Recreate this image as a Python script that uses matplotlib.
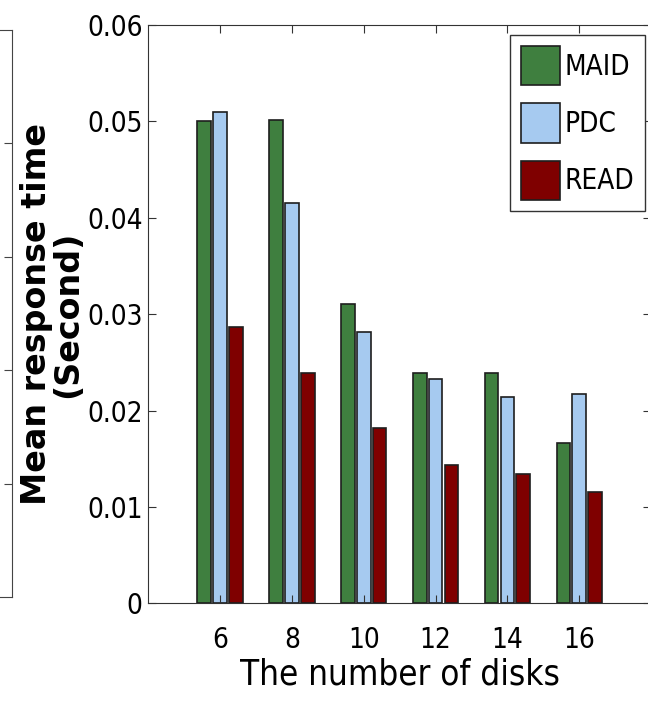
import numpy as np
import matplotlib
matplotlib.use('Agg')
import matplotlib.pyplot as plt
import matplotlib.font_manager as fm

# mean response time per number of disks
disks = ['6', '8', '10', '12', '14', '16']
maid = [0.0500, 0.0501, 0.0311, 0.0239, 0.0239, 0.0166]
pdc = [0.0510, 0.0415, 0.0281, 0.0233, 0.0214, 0.0217]
read = [0.0287, 0.0239, 0.0182, 0.0144, 0.0134, 0.0115]

# look for a narrow sans face, fall back to plain Liberation Sans
narrow = None
for f in fm.fontManager.ttflist:
    if ('Narrow' in f.name or 'Condensed' in f.name or 'condensed' in str(f.stretch)) \
            and f.style == 'normal' and f.weight in (400, 'normal', 'regular'):
        narrow = f.fname
        break
if narrow:
    fp = fm.FontProperties(fname=narrow)
    tsize, xsize, lsize = 20, 25, 20
else:
    fp = fm.FontProperties(family='Liberation Sans')
    tsize, xsize, lsize = 18, 22, 18

fig = plt.figure(figsize=(6.48, 7.07), dpi=100)

# edge of the neighbouring panel on the left
side = fig.add_axes([-0.5, 1 - 597/707, 0.5 + 12/648, 567/707])
side.set_xticks([])
side.set_ylim(0, 5)
side.set_yticks([1, 2, 3, 4])
side.tick_params(axis='y', left=False, right=True, direction='in', length=6,
                 labelleft=False, color='#444444')
for s in side.spines.values():
    s.set_color('#444444')

ax = fig.add_axes([148.3/648, 103.7/707, 502.7/648, 578.3/707])

x = np.arange(1, len(disks) + 1)
w = 0.19
off = 0.22
ec = '#1e1e1e'
ax.bar(x - off, maid, w, color='#3f7f3f', edgecolor=ec, linewidth=1.2, label='MAID')
ax.bar(x, pdc, w, color='#a6caf0', edgecolor=ec, linewidth=1.2, label='PDC')
ax.bar(x + off, read, w, color='#7f0000', edgecolor=ec, linewidth=1.2, label='READ')

ax.set_xlim(0, 7)
ax.set_ylim(0, 0.06)
ax.set_xticks(x)
ax.set_xticklabels(disks, fontproperties=fp, fontsize=tsize)
ax.set_yticks([0, 0.01, 0.02, 0.03, 0.04, 0.05, 0.06])
ax.set_yticklabels(['0', '0.01', '0.02', '0.03', '0.04', '0.05', '0.06'],
                   fontproperties=fp, fontsize=tsize)
ax.tick_params(direction='in', length=6, top=True, right=True, color='#333333')
ax.tick_params(axis='y', pad=4)
ax.tick_params(axis='x', pad=16)
for s in ax.spines.values():
    s.set_color('#333333')

ax.set_xlabel('The number of disks', fontproperties=fp, fontsize=xsize, labelpad=3)
fig.text(52/648, 1 - 314/707, 'Mean response time\n(Second)', rotation=90,
         ha='center', va='center', fontsize=24, fontweight='bold',
         family='DejaVu Sans', linespacing=0.95)

lfp = fp.copy()
lfp.set_size(lsize)
leg = ax.legend(loc='upper right', bbox_to_anchor=(0.988, 0.9827), borderaxespad=0,
                prop=lfp, fancybox=False, edgecolor='#333333', framealpha=1,
                handlelength=1.4, handleheight=1.8, handletextpad=0.15,
                labelspacing=0.65, borderpad=0.4)
leg.get_frame().set_linewidth(1.0)

fig.savefig('out.png', dpi=100)
